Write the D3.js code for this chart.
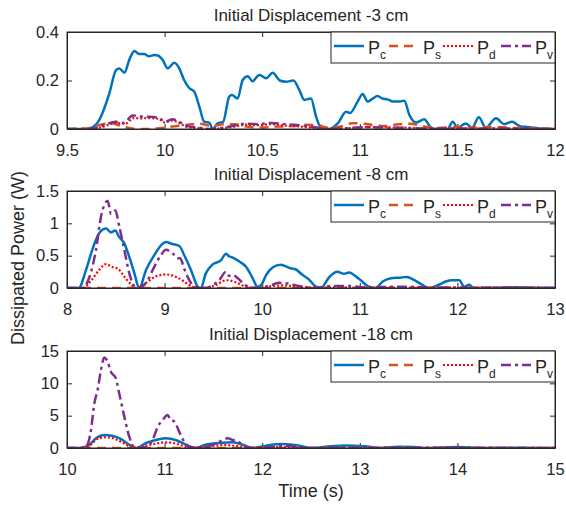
<!DOCTYPE html>
<html>
<head>
<meta charset="utf-8">
<script src="https://cdn.jsdelivr.net/npm/d3@7"></script>
<style>
  body { margin: 0; background: #fff; }
  text { font-family: "Liberation Sans", Arial, sans-serif; fill: #262626; }
</style>
</head>
<body>
<div id="chart"></div>
<script>
// ---- data (time s, power W) ----
const pc1 = [[9.5,0],[9.6,0],[9.62,0.003],[9.665,0.037],[9.717,0.147],[9.751,0.243],[9.768,0.25],[9.794,0.232],[9.819,0.285],[9.845,0.322],[9.87,0.309],[9.896,0.309],[9.92,0.3],[9.947,0.305],[9.965,0.303],[9.99,0.285],[10.016,0.25],[10.05,0.273],[10.075,0.25],[10.1,0.202],[10.127,0.168],[10.152,0.154],[10.178,0.092],[10.203,0.03],[10.23,0.025],[10.246,0],[10.272,0.023],[10.3,0.03],[10.331,0.133],[10.345,0.14],[10.374,0.126],[10.4,0.202],[10.426,0.218],[10.45,0.197],[10.485,0.223],[10.52,0.209],[10.554,0.232],[10.59,0.2],[10.622,0.195],[10.66,0.2],[10.69,0.161],[10.716,0.12],[10.75,0.126],[10.776,0.051],[10.8,0.007],[10.84,0],[10.887,0.023],[10.93,0.071],[10.95,0.066],[10.989,0.113],[11.015,0.144],[11.04,0.113],[11.065,0.125],[11.09,0.136],[11.115,0.126],[11.143,0.122],[11.17,0.113],[11.2,0.113],[11.228,0.117],[11.254,0.058],[11.29,0.027],[11.33,0.04],[11.36,0.01],[11.38,0],[11.45,0],[11.476,0.03],[11.5,0.005],[11.544,0.023],[11.575,0.005],[11.61,0.048],[11.645,0.005],[11.698,0.044],[11.74,0.02],[11.78,0.03],[11.82,0.012],[11.86,0.008],[11.92,0.002],[12,0]];
const ps1 = [[9.5,0],[9.6,0.002],[9.66,0.015],[9.72,0.025],[9.78,0.012],[9.84,0.001],[9.9,0],[9.96,0.002],[10.04,0.01],[10.12,0.018],[10.18,0.022],[10.24,0.012],[10.3,0.02],[10.36,0.02],[10.42,0.01],[10.5,0.006],[10.58,0.01],[10.66,0.012],[10.72,0.018],[10.78,0.016],[10.84,0.005],[10.9,0.01],[10.96,0.024],[11.02,0.022],[11.08,0.015],[11.14,0.012],[11.2,0.02],[11.26,0.022],[11.32,0.012],[11.4,0.004],[11.5,0.008],[11.6,0.006],[11.7,0.008],[11.8,0.004],[11.9,0.002],[12,0]];
const pd1 = [[9.5,0],[9.62,0],[9.68,0.008],[9.75,0.025],[9.8,0.022],[9.84,0.045],[9.88,0.044],[9.92,0.045],[9.97,0.042],[10.0,0.027],[10.04,0.035],[10.075,0.025],[10.11,0.01],[10.16,0.004],[10.22,0],[10.3,0.004],[10.36,0.01],[10.42,0.018],[10.48,0.016],[10.55,0.02],[10.62,0.014],[10.7,0.01],[10.77,0.004],[10.84,0],[10.95,0.004],[11.05,0.008],[11.15,0.006],[11.25,0.005],[11.35,0.002],[11.5,0.002],[11.7,0.002],[12,0]];
const pv1 = [[9.5,0],[9.62,0],[9.67,0.01],[9.75,0.03],[9.79,0.025],[9.836,0.056],[9.87,0.052],[9.905,0.051],[9.94,0.05],[9.97,0.047],[10.0,0.03],[10.04,0.04],[10.075,0.03],[10.11,0.014],[10.18,0.005],[10.24,0],[10.32,0.008],[10.42,0.022],[10.48,0.02],[10.55,0.025],[10.62,0.02],[10.66,0.018],[10.76,0.008],[10.84,0],[10.95,0.004],[11.03,0.008],[11.1,0.006],[11.2,0.005],[11.35,0.002],[11.6,0.002],[12,0]];

const pc2 = [[8,0],[8.12,0],[8.195,0.28],[8.263,0.61],[8.331,0.85],[8.4,0.92],[8.45,0.86],[8.495,0.89],[8.53,0.8],[8.587,0.69],[8.638,0.48],[8.69,0.23],[8.74,0],[8.81,0.28],[8.895,0.51],[8.963,0.66],[9.014,0.71],[9.08,0.68],[9.151,0.65],[9.2,0.51],[9.27,0.28],[9.34,0.02],[9.37,0],[9.424,0.23],[9.49,0.36],[9.578,0.43],[9.629,0.53],[9.66,0.49],[9.7,0.47],[9.766,0.41],[9.834,0.33],[9.903,0.15],[9.95,0.02],[9.99,0.05],[10.04,0.2],[10.11,0.32],[10.19,0.36],[10.28,0.31],[10.34,0.29],[10.415,0.2],[10.48,0.13],[10.55,0.02],[10.6,0],[10.688,0.17],[10.77,0.25],[10.84,0.22],[10.89,0.24],[10.96,0.18],[11.01,0.12],[11.08,0.03],[11.16,0],[11.235,0.1],[11.32,0.15],[11.41,0.16],[11.48,0.17],[11.56,0.12],[11.64,0.05],[11.71,0],[11.81,0.05],[11.88,0.1],[11.95,0.12],[12.02,0.12],[12.07,0.02],[12.12,0.05],[12.17,0],[12.4,0.005],[12.6,0.01],[12.8,0.005],[13,0]];
const ps2 = [[8,0],[13,0]];
const pd2 = [[8,0],[8.16,0],[8.25,0.12],[8.33,0.28],[8.4,0.37],[8.47,0.32],[8.52,0.3],[8.59,0.17],[8.66,0.05],[8.71,0],[8.81,0.08],[8.91,0.18],[9.01,0.21],[9.12,0.17],[9.2,0.1],[9.29,0.02],[9.42,0],[9.53,0.05],[9.63,0.12],[9.71,0.1],[9.8,0.04],[9.9,0],[10.1,0.03],[10.2,0.04],[10.38,0.02],[10.58,0],[10.79,0.015],[10.95,0],[11.4,0.005],[13,0]];
const pv2 = [[8,0],[8.16,0],[8.23,0.17],[8.297,0.59],[8.348,1.1],[8.382,1.28],[8.417,1.35],[8.45,1.15],[8.495,1.2],[8.536,0.95],[8.587,0.59],[8.638,0.23],[8.69,0.03],[8.74,0],[8.826,0.12],[8.895,0.33],[8.963,0.51],[9.014,0.59],[9.08,0.54],[9.134,0.46],[9.16,0.46],[9.2,0.3],[9.25,0.13],[9.32,0.01],[9.42,0],[9.49,0.04],[9.56,0.12],[9.629,0.25],[9.66,0.19],[9.7,0.2],[9.75,0.15],[9.8,0.08],[9.87,0.01],[9.97,0],[10.07,0.03],[10.17,0.08],[10.26,0.07],[10.38,0.03],[10.52,0.005],[10.72,0.03],[10.89,0.03],[11.06,0.01],[11.4,0.02],[11.75,0.01],[12.2,0.005],[13,0]];

const pc3 = [[10,0],[10.126,0],[10.23,0.5],[10.297,1.5],[10.382,2.0],[10.47,1.85],[10.55,1.4],[10.64,0.5],[10.71,0],[10.81,0.77],[10.9,1.2],[11.01,1.5],[11.12,1.2],[11.22,0.5],[11.32,0],[11.42,0.5],[11.56,0.77],[11.7,0.9],[11.8,0.5],[11.9,0],[12.04,0.36],[12.21,0.6],[12.38,0.36],[12.5,0],[12.7,0.26],[12.84,0.4],[13.05,0.26],[13.2,0],[13.4,0.2],[13.55,0.15],[13.7,0],[14.0,0.15],[14.25,0],[14.6,0.05],[15,0]];
const ps3 = [[10,0],[15,0]];
const pd3 = [[10,0],[10.16,0],[10.25,0.6],[10.31,1.4],[10.39,1.65],[10.47,1.5],[10.55,1.0],[10.64,0.26],[10.69,0],[10.81,0.36],[10.91,0.67],[11.01,0.88],[11.12,0.67],[11.22,0.15],[11.28,0],[11.46,0.26],[11.62,0.46],[11.76,0.26],[11.87,0],[12.17,0.15],[12.38,0],[15,0]];
const pv3 = [[10,0],[10.126,0],[10.195,0.2],[10.246,2.8],[10.28,6.9],[10.314,9.0],[10.348,12.06],[10.382,14.0],[10.417,13.35],[10.45,11.8],[10.5,10.8],[10.535,8.45],[10.587,4.85],[10.638,1.75],[10.69,0.1],[10.74,0],[10.81,0.15],[10.877,1.24],[10.93,3.3],[10.98,4.33],[11.03,5.1],[11.065,4.3],[11.1,4.1],[11.15,2.5],[11.2,1.0],[11.27,0.1],[11.36,0],[11.46,0.3],[11.56,0.98],[11.646,1.5],[11.7,1.24],[11.75,1.0],[11.82,0.3],[11.9,0],[12.1,0.15],[12.24,0.35],[12.38,0.15],[12.5,0],[13,0.05],[14,0.03],[15,0]];

const titles = ["Initial Displacement -3 cm", "Initial Displacement -8 cm", "Initial Displacement -18 cm"];
const xTicks1 = [9.5, 10, 10.5, 11, 11.5, 12];
const xTicks2 = [8, 9, 10, 11, 12, 13];
const xTicks3 = [10, 11, 12, 13, 14, 15];
const yTicks1 = [0, 0.2, 0.4];
const yTicks2 = [0, 0.5, 1, 1.5];
const yTicks3 = [0, 5, 10, 15];
const legendNames = ["c", "s", "d", "v"];

// ---- styles ----
const lineStyles = {
  c: { color: "#0072BD", dash: null, width: 2.5 },
  s: { color: "#D95319", dash: "9,6", width: 2.5 },
  d: { color: "#FF0000", dash: "2,2", width: 2.2 },
  v: { color: "#7E2F8E", dash: "10,4,3,4", width: 2.5 }
};

const width = 566, height = 506;
const left = 67, right = 555, plotH = 97;

const svg = d3.select("#chart").append("svg")
  .attr("width", width)
  .attr("height", height);

const panels = [
  { top: 32, title: titles[0], xt: xTicks1, yt: yTicks1, series: [pc1, ps1, pd1, pv1] },
  { top: 191, title: titles[1], xt: xTicks2, yt: yTicks2, series: [pc2, ps2, pd2, pv2] },
  { top: 351, title: titles[2], xt: xTicks3, yt: yTicks3, series: [pc3, ps3, pd3, pv3] }
];

panels.forEach((p, i) => drawPanel(p, i));

function drawPanel(p, i) {
  const x = d3.scaleLinear().domain(d3.extent(p.xt)).range([left, right]);
  const y = d3.scaleLinear().domain(d3.extent(p.yt)).range([p.top + plotH, p.top]);
  const g = svg.append("g");

  g.append("clipPath").attr("id", "clip" + i)
    .append("rect")
    .attr("x", left).attr("y", p.top)
    .attr("width", right - left).attr("height", plotH);

  // axes (MATLAB style: ticks inside, box on)
  const tk = 5;
  g.append("g").attr("transform", `translate(0,${p.top + plotH})`)
    .call(d3.axisBottom(x).tickValues(p.xt).tickSizeInner(-tk).tickSizeOuter(0).tickPadding(15).tickFormat(d3.format("")))
    .call(s => s.selectAll("text").style("font-size", "16.5px").attr("dy", "0.72em"));
  g.append("g").attr("transform", `translate(0,${p.top})`)
    .call(d3.axisTop(x).tickValues(p.xt).tickSizeInner(-tk).tickSizeOuter(0).tickFormat(""));
  g.append("g").attr("transform", `translate(${left},0)`)
    .call(d3.axisLeft(y).tickValues(p.yt).tickSizeInner(-tk).tickSizeOuter(0).tickPadding(8).tickFormat(d3.format("")))
    .call(s => s.selectAll("text").style("font-size", "16.5px"));
  g.append("g").attr("transform", `translate(${right},0)`)
    .call(d3.axisRight(y).tickValues(p.yt).tickSizeInner(-tk).tickSizeOuter(0).tickFormat(""));
  g.selectAll(".domain").attr("stroke", "#262626");
  g.selectAll(".tick line").attr("stroke", "#262626");

  // curves
  const line = d3.line()
    .x(d => x(d[0]))
    .y(d => y(d[1]))
    .curve(d3.curveMonotoneX);

  g.append("g").attr("clip-path", `url(#clip${i})`)
    .selectAll("path")
    .data(p.series)
    .join("path")
    .attr("d", line)
    .attr("fill", "none")
    .attr("stroke", (d, j) => lineStyles[legendNames[j]].color)
    .attr("stroke-width", (d, j) => lineStyles[legendNames[j]].width)
    .attr("stroke-dasharray", (d, j) => lineStyles[legendNames[j]].dash)
    .attr("stroke-linejoin", "round");

  // box
  g.append("rect")
    .attr("x", left).attr("y", p.top)
    .attr("width", right - left).attr("height", plotH)
    .attr("fill", "none").attr("stroke", "#262626").attr("stroke-width", 1);

  // title
  g.append("text")
    .attr("x", (left + right) / 2).attr("y", p.top - 11)
    .attr("text-anchor", "middle")
    .style("font-size", "17px")
    .text(p.title);

  // legend
  const lg = g.append("g").attr("transform", `translate(331,${p.top})`);
  lg.append("rect")
    .attr("width", right - 331).attr("height", 31)
    .attr("fill", "#fff").attr("stroke", "#262626").attr("stroke-width", 1);
  legendNames.forEach((k, j) => {
    const ox = [3, 58, 112, 170][j];
    const st = lineStyles[k];
    lg.append("line")
      .attr("x1", ox).attr("x2", ox + 30)
      .attr("y1", 14).attr("y2", 14)
      .attr("stroke", st.color).attr("stroke-width", st.width)
      .attr("stroke-dasharray", st.dash);
    const t = lg.append("text")
      .attr("x", ox + 34).attr("y", 22)
      .style("font-size", "18px");
    t.append("tspan").text("P");
    t.append("tspan").attr("dy", 5).style("font-size", "12px").text(k);
  });
}

// axis labels
svg.append("text")
  .attr("x", (left + right) / 2).attr("y", 497)
  .attr("text-anchor", "middle")
  .style("font-size", "18px")
  .text("Time (s)");

svg.append("text")
  .attr("transform", `translate(24,258) rotate(-90)`)
  .attr("text-anchor", "middle")
  .style("font-size", "18px")
  .text("Dissipated Power (W)");
</script>
</body>
</html>
